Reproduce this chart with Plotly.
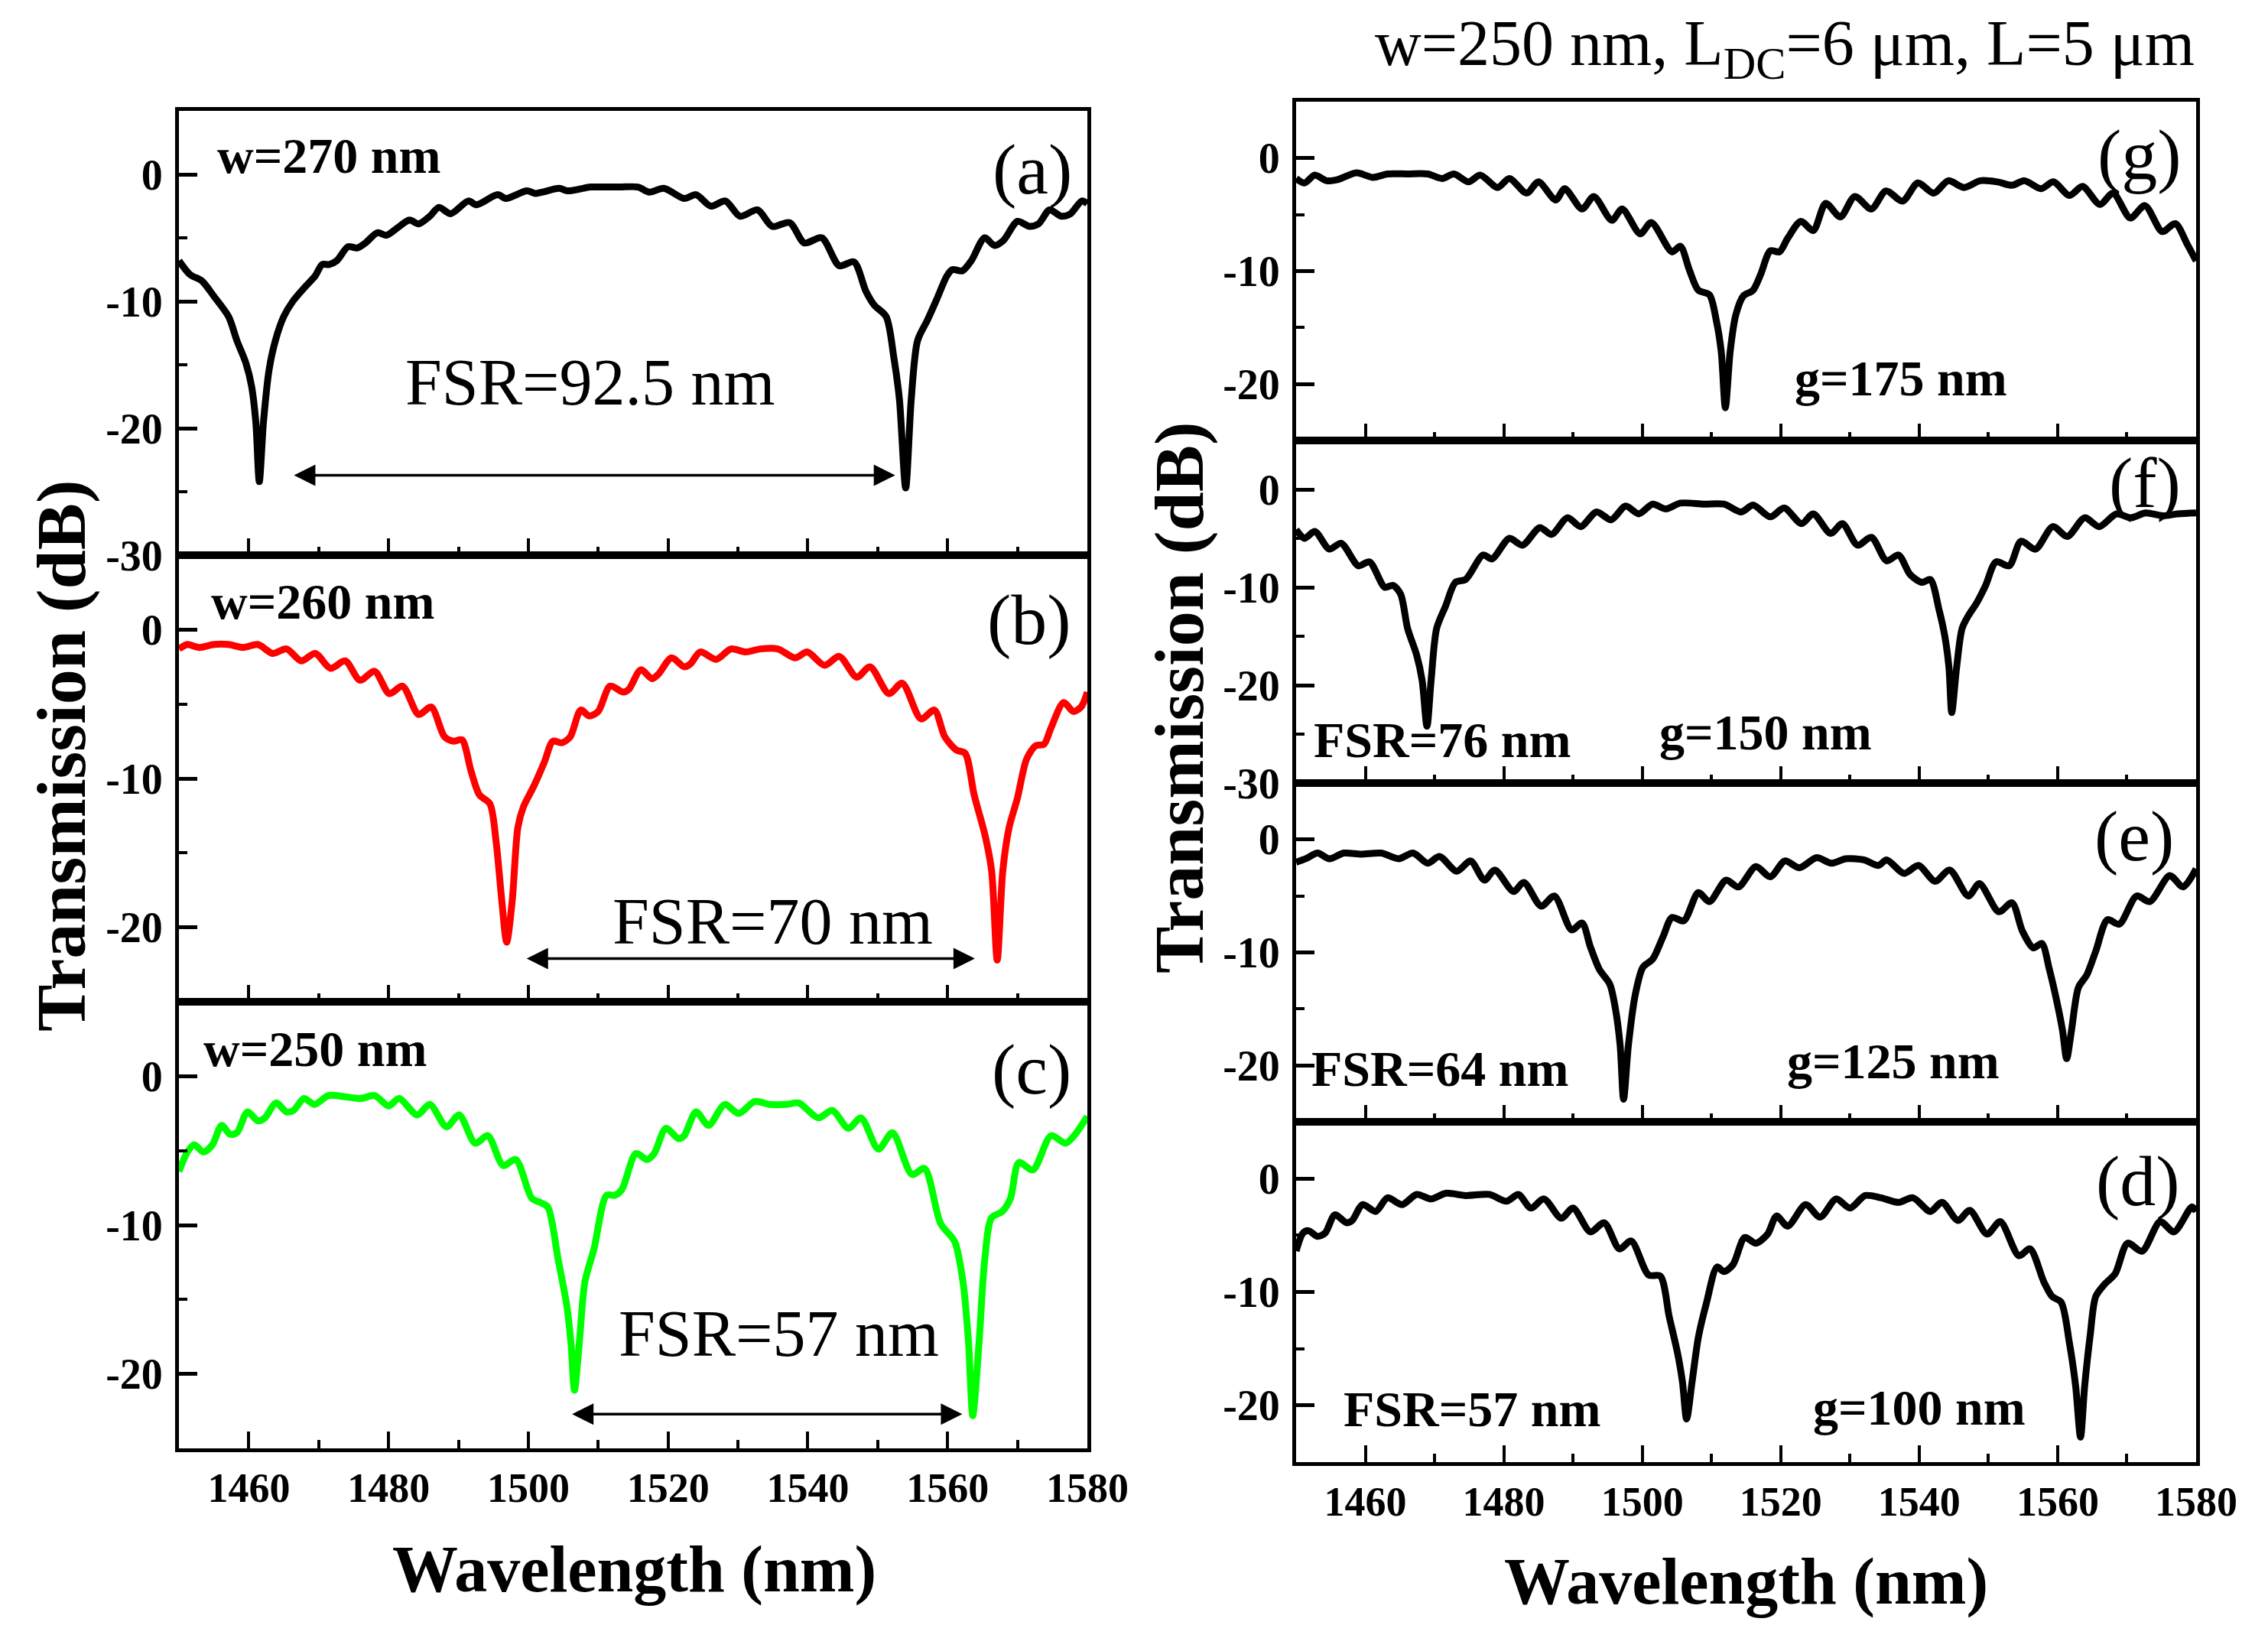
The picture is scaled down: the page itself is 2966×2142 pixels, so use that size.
import plotly.graph_objects as go

# ---------------- data ----------------
wl_a = [1450.0, 1451.6, 1453.3, 1455.0, 1457.1, 1458.3, 1459.6, 1460.4, 1461.0, 1461.5, 1462.1, 1462.9,
        1463.8, 1465.0, 1466.3, 1468.0, 1469.5, 1470.5, 1471.5, 1472.6, 1474.2, 1475.5, 1476.7, 1478.4,
        1479.7, 1481.3, 1483.0, 1484.3, 1485.9, 1487.2, 1488.9, 1491.4, 1492.6, 1495.6, 1496.8, 1499.8,
        1501.0, 1504.4, 1505.6, 1508.9, 1510.6, 1513.1, 1515.7, 1517.3, 1519.4, 1522.3, 1524.0, 1526.1,
        1528.2, 1530.3, 1532.8, 1534.9, 1537.4, 1539.5, 1542.0, 1544.5, 1546.6, 1548.3, 1549.5, 1551.2,
        1552.3, 1553.1, 1554.0, 1554.8, 1555.7, 1557.1, 1558.4, 1559.9, 1560.7, 1562.1, 1563.4, 1565.3,
        1566.7, 1568.0, 1570.0, 1571.7, 1573.0, 1574.6, 1576.3, 1577.6, 1579.2, 1580.0]
tr_a = [-6.8, -7.9, -8.4, -9.6, -11.2, -13.1, -14.9, -16.7, -19.5, -24.2, -19.5, -15.4,
        -13.1, -11.2, -10.0, -8.9, -8.0, -7.1, -7.1, -6.8, -5.7, -5.8, -5.4, -4.6,
        -4.8, -4.2, -3.6, -3.9, -3.3, -2.6, -3.1, -2.1, -2.4, -1.6, -1.9, -1.3,
        -1.5, -1.1, -1.3, -1.0, -1.0, -1.0, -1.0, -1.4, -1.1, -1.9, -1.6, -2.5,
        -2.1, -3.3, -2.8, -4.1, -3.8, -5.4, -5.0, -7.2, -6.9, -9.2, -10.3, -11.2,
        -14.4, -17.7, -24.7, -17.7, -13.1, -11.5, -9.9, -8.0, -7.5, -7.6, -6.8, -5.0,
        -5.6, -5.2, -3.7, -4.1, -3.9, -2.8, -3.3, -3.1, -2.1, -2.3]

wl_b = [1450.0, 1451.2, 1452.9, 1455.0, 1457.1, 1459.2, 1461.3, 1463.4, 1465.4, 1467.5, 1469.5, 1471.7,
        1473.8, 1475.9, 1478.0, 1480.1, 1482.0, 1484.3, 1486.1, 1488.0, 1489.3, 1490.5, 1491.8, 1493.0,
        1494.5, 1495.4, 1496.2, 1496.9, 1497.7, 1498.5, 1499.3, 1500.8, 1502.3, 1503.5, 1504.8, 1506.0,
        1507.5, 1508.7, 1510.0, 1511.7, 1513.6, 1514.4, 1516.1, 1517.7, 1518.6, 1520.5, 1522.3, 1523.2,
        1524.6, 1526.9, 1529.0, 1531.1, 1533.2, 1535.7, 1538.2, 1539.9, 1542.4, 1544.5, 1547.0, 1548.9,
        1551.6, 1553.5, 1556.2, 1558.1, 1559.6, 1561.3, 1562.5, 1563.8, 1565.4, 1566.3, 1567.1, 1567.9,
        1568.8, 1570.0, 1571.3, 1572.6, 1573.8, 1574.8, 1576.6, 1578.0, 1579.1, 1580.0]
tr_b = [-1.3, -1.0, -1.2, -1.0, -1.0, -1.2, -1.0, -1.6, -1.3, -2.1, -1.6, -2.6,
        -2.1, -3.4, -2.8, -4.3, -3.8, -5.7, -5.2, -7.2, -7.5, -7.4, -9.5, -11.1,
        -11.7, -14.3, -18.2, -21.0, -18.2, -13.3, -11.9, -10.5, -8.9, -7.5, -7.6, -7.2,
        -5.4, -5.8, -5.5, -3.8, -4.2, -4.0, -2.7, -3.3, -3.0, -1.9, -2.5, -2.3,
        -1.5, -2.0, -1.3, -1.5, -1.3, -1.3, -1.9, -1.5, -2.4, -1.8, -3.2, -2.5,
        -4.3, -3.6, -6.0, -5.4, -7.2, -8.1, -8.3, -11.1, -13.9, -16.2, -22.2, -16.2,
        -13.3, -11.3, -8.7, -7.8, -7.7, -6.6, -4.9, -5.5, -5.2, -4.2]

wl_c = [1450.0, 1451.2, 1452.2, 1453.5, 1454.8, 1456.1, 1457.3, 1458.3, 1459.8, 1461.3, 1462.3, 1463.9,
        1465.4, 1466.4, 1467.9, 1469.4, 1471.4, 1474.0, 1476.0, 1478.0, 1480.0, 1481.5, 1484.1, 1485.9,
        1488.3, 1490.1, 1492.4, 1494.2, 1496.4, 1498.2, 1500.5, 1501.8, 1502.8, 1504.3, 1505.5, 1506.1,
        1506.6, 1507.3, 1508.1, 1509.4, 1511.2, 1512.4, 1513.4, 1515.4, 1517.0, 1518.0, 1519.7, 1521.5,
        1522.3, 1524.0, 1525.8, 1528.1, 1530.1, 1532.4, 1534.6, 1536.9, 1538.7, 1541.5, 1543.5, 1545.8,
        1547.6, 1550.1, 1552.1, 1554.9, 1556.7, 1559.0, 1561.0, 1562.2, 1563.0, 1563.6, 1564.5, 1565.3,
        1566.3, 1567.8, 1569.0, 1570.2, 1572.2, 1574.8, 1576.9, 1578.1, 1580.0]
tr_c = [-6.4, -5.1, -4.6, -5.1, -4.6, -3.3, -3.9, -3.8, -2.4, -3.0, -2.8, -1.8,
        -2.4, -2.3, -1.5, -1.9, -1.3, -1.4, -1.5, -1.3, -2.0, -1.5, -2.6, -1.9,
        -3.4, -2.6, -4.5, -4.0, -6.0, -5.6, -8.2, -8.5, -8.8, -12.4, -15.4, -17.9,
        -21.1, -17.9, -13.8, -11.6, -8.0, -8.0, -7.6, -5.2, -5.6, -5.2, -3.5, -4.2,
        -4.0, -2.4, -3.3, -1.9, -2.5, -1.7, -1.9, -1.9, -1.8, -2.8, -2.3, -3.5,
        -2.8, -4.9, -3.8, -6.6, -6.2, -9.9, -11.1, -13.8, -17.9, -22.8, -17.9, -12.4,
        -9.5, -9.1, -8.2, -5.8, -6.3, -4.0, -4.5, -4.0, -2.7]

wl_g = [1450.0, 1451.2, 1452.7, 1454.4, 1456.0, 1458.7, 1461.1, 1463.2, 1466.1, 1469.0, 1471.1, 1472.8,
        1474.9, 1476.6, 1479.1, 1480.8, 1483.3, 1485.0, 1487.5, 1488.8, 1491.3, 1493.0, 1495.6, 1497.1,
        1499.7, 1501.3, 1504.3, 1505.5, 1506.8, 1508.1, 1509.7, 1510.7, 1511.4, 1512.0, 1512.7, 1513.5,
        1514.6, 1516.0, 1517.1, 1518.5, 1519.8, 1521.0, 1522.9, 1524.7, 1526.5, 1528.6, 1530.7, 1533.1,
        1535.2, 1537.6, 1539.8, 1542.1, 1544.2, 1546.5, 1548.8, 1551.3, 1553.4, 1555.2, 1557.6, 1559.4,
        1561.7, 1563.6, 1566.1, 1568.0, 1570.5, 1572.6, 1575.1, 1577.0, 1578.7, 1580.0]
tr_g = [-1.8, -2.2, -1.5, -2.0, -1.9, -1.3, -1.7, -1.4, -1.4, -1.4, -1.8, -1.4,
        -2.1, -1.5, -2.6, -1.8, -3.1, -2.1, -3.7, -2.7, -4.5, -3.4, -5.5, -4.5,
        -6.7, -5.7, -8.3, -7.8, -9.9, -11.7, -12.1, -14.4, -17.1, -22.1, -17.1, -13.9,
        -12.2, -11.7, -10.3, -8.2, -8.3, -7.1, -5.6, -6.4, -4.0, -5.2, -3.4, -4.5,
        -2.9, -3.8, -2.2, -3.1, -2.0, -2.6, -2.0, -2.1, -2.4, -2.0, -2.7, -2.1,
        -3.3, -2.5, -4.1, -3.1, -5.3, -4.2, -6.5, -5.8, -7.6, -9.1]

wl_f = [1450.0, 1451.2, 1452.7, 1454.8, 1456.5, 1459.0, 1460.6, 1462.8, 1464.0, 1465.1, 1466.1, 1467.4,
        1468.2, 1468.9, 1469.5, 1470.3, 1471.6, 1473.0, 1474.5, 1477.0, 1478.3, 1480.8, 1482.7, 1485.2,
        1486.9, 1489.2, 1491.1, 1493.4, 1495.5, 1497.6, 1499.5, 1501.5, 1503.4, 1505.5, 1508.9, 1511.8,
        1514.3, 1516.0, 1518.5, 1520.5, 1523.0, 1524.7, 1527.2, 1528.9, 1531.1, 1533.1, 1535.3, 1537.0,
        1538.7, 1540.4, 1541.6, 1542.9, 1543.7, 1544.3, 1544.7, 1545.4, 1546.2, 1547.1, 1548.3, 1549.6,
        1551.1, 1553.0, 1554.7, 1556.8, 1559.3, 1561.4, 1563.9, 1566.0, 1568.5, 1570.6, 1572.7, 1575.2,
        1577.3, 1580.0]
tr_f = [-4.1, -5.0, -4.3, -6.1, -5.5, -7.8, -7.4, -10.0, -9.8, -10.7, -14.2, -16.9,
        -19.5, -24.2, -19.5, -14.2, -11.9, -9.5, -9.2, -6.7, -7.1, -5.0, -5.7, -3.9,
        -4.6, -2.9, -3.8, -2.3, -3.1, -1.7, -2.5, -1.5, -2.0, -1.4, -1.5, -1.5,
        -2.3, -1.6, -2.8, -1.9, -3.5, -2.5, -4.5, -3.5, -5.7, -4.9, -7.3, -6.7,
        -8.7, -9.5, -9.2, -12.4, -15.0, -18.2, -22.8, -18.2, -14.2, -12.9, -11.6, -9.8,
        -7.4, -7.8, -5.3, -6.1, -3.8, -4.8, -2.9, -3.8, -2.5, -2.9, -2.4, -2.7,
        -2.5, -2.4]

wl_e = [1450.0, 1451.4, 1453.1, 1454.8, 1456.9, 1459.4, 1462.3, 1464.8, 1466.9, 1469.0, 1470.7, 1473.2,
        1475.2, 1477.2, 1478.7, 1481.4, 1482.9, 1485.4, 1487.3, 1489.8, 1491.3, 1492.5, 1493.8, 1495.3,
        1496.1, 1496.8, 1497.3, 1498.0, 1499.0, 1500.1, 1501.5, 1503.0, 1504.3, 1506.0, 1508.1, 1509.7,
        1512.1, 1513.9, 1516.4, 1518.5, 1520.6, 1522.7, 1525.2, 1527.3, 1529.4, 1532.0, 1534.1, 1535.3,
        1537.8, 1539.9, 1542.3, 1544.4, 1547.1, 1548.7, 1551.5, 1553.4, 1554.9, 1556.5, 1557.7, 1558.8,
        1559.9, 1560.7, 1561.3, 1562.0, 1563.0, 1564.2, 1565.5, 1567.2, 1568.9, 1571.4, 1573.3, 1576.2,
        1578.1, 1580.0]
tr_e = [-2.0, -1.7, -1.2, -1.7, -1.2, -1.3, -1.2, -1.7, -1.2, -2.1, -1.5, -2.8,
        -1.9, -3.6, -2.7, -4.6, -3.8, -5.9, -5.0, -8.0, -7.4, -9.5, -11.5, -12.8,
        -14.9, -18.2, -23.0, -18.2, -13.7, -11.3, -10.6, -8.6, -6.9, -7.2, -4.7, -5.5,
        -3.6, -4.2, -2.4, -3.3, -1.9, -2.5, -1.6, -2.1, -1.7, -1.8, -2.3, -1.8,
        -3.0, -2.3, -3.7, -2.7, -5.0, -3.9, -6.4, -5.6, -8.1, -9.6, -9.2, -11.5,
        -14.4, -16.9, -19.4, -16.9, -13.1, -12.0, -9.9, -7.1, -7.5, -5.0, -5.5, -3.2,
        -4.2, -2.6]

wl_d = [1450.0, 1451.0, 1451.8, 1453.1, 1454.2, 1455.6, 1457.3, 1458.1, 1459.6, 1461.5, 1463.2, 1465.3,
        1467.4, 1469.5, 1471.6, 1474.5, 1477.9, 1480.4, 1482.1, 1483.9, 1485.8, 1488.3, 1490.0, 1492.5,
        1494.5, 1496.7, 1498.4, 1500.9, 1502.6, 1503.9, 1505.1, 1505.8, 1506.4, 1507.2, 1508.1, 1509.3,
        1510.8, 1511.8, 1513.1, 1514.8, 1516.4, 1518.1, 1519.4, 1521.0, 1523.6, 1525.7, 1528.0, 1530.0,
        1532.2, 1534.5, 1537.0, 1539.1, 1541.6, 1543.3, 1545.6, 1547.3, 1549.8, 1551.7, 1554.4, 1556.0,
        1558.0, 1559.2, 1560.5, 1561.7, 1562.6, 1563.3, 1563.9, 1564.7, 1565.5, 1566.8, 1568.3, 1570.1,
        1572.2, 1574.8, 1576.8, 1579.4, 1580.0]
tr_d = [-6.4, -4.8, -4.6, -5.1, -4.8, -3.2, -3.9, -3.7, -2.3, -2.9, -1.7, -2.3,
        -1.4, -1.8, -1.3, -1.5, -1.4, -2.0, -1.4, -2.6, -1.8, -3.5, -2.6, -4.7,
        -3.9, -6.2, -5.5, -8.5, -8.6, -12.2, -15.4, -17.9, -21.2, -17.9, -14.0, -10.9,
        -7.8, -8.2, -7.6, -5.2, -5.7, -4.9, -3.3, -4.2, -2.3, -3.4, -1.8, -2.6,
        -1.5, -1.7, -2.1, -1.7, -2.9, -2.1, -3.7, -2.8, -4.9, -3.8, -6.8, -6.2,
        -9.1, -10.4, -10.9, -14.5, -18.3, -22.8, -18.3, -13.8, -10.4, -9.3, -8.4, -5.7,
        -6.4, -3.8, -4.7, -2.5, -2.9]

x_ticks = [1460, 1480, 1500, 1520, 1540, 1560, 1580]
x_ticktext = ["1460", "1480", "1500", "1520", "1540", "1560", "1580"]
y_ticks = [-30, -20, -10, 0]
y_ticktext = ["-30", "-20", "-10", "0"]

# panel labels / annotations (text only)
panel_labels = ["(a)", "(b)", "(c)", "(g)", "(f)", "(e)", "(d)"]
width_labels = ["w=270 nm", "w=260 nm", "w=250 nm"]
fsr_left = ["FSR=92.5 nm", "FSR=70 nm", "FSR=57 nm"]
fsr_right = ["", "FSR=76 nm", "FSR=64 nm", "FSR=57 nm"]
gap_labels = ["g=175 nm", "g=150 nm", "g=125 nm", "g=100 nm"]

# ---------------- layout ----------------
W, H = 2966, 2142
FONT = "Liberation Serif"

def px_x(x):
    return x / W

def px_y(y):
    return 1 - y / H

XL = [px_x(234), px_x(1422)]
XR = [px_x(1695), px_x(2872)]

panels = [
    # wl, tr, color, xdomain, ydomain, yrange, bottom?
    (wl_a, tr_a, "black", XL, [px_y(726), px_y(145)], [-30, 5], False),
    (wl_b, tr_b, "#ff0000", XL, [px_y(1310), px_y(726)], [-25, 5], False),
    (wl_c, tr_c, "#00ff00", XL, [px_y(1894), px_y(1310)], [-25, 5], True),
    (wl_g, tr_g, "black", XR, [px_y(576), px_y(133)], [-25, 5], False),
    (wl_f, tr_f, "black", XR, [px_y(1024), px_y(576)], [-30, 5], False),
    (wl_e, tr_e, "black", XR, [px_y(1467), px_y(1024)], [-25, 5], False),
    (wl_d, tr_d, "black", XR, [px_y(1912), px_y(1467)], [-25, 5], True),
]

fig = go.Figure()
layout = dict(
    template="none",
    width=W, height=H,
    margin=dict(l=0, r=0, t=0, b=0, pad=0, autoexpand=False),
    paper_bgcolor="white", plot_bgcolor="white",
    showlegend=False,
    font=dict(family=FONT, color="black"),
)

for i, (wl, tr, col, xd, yd, yr, bottom) in enumerate(panels, start=1):
    xa = "x" if i == 1 else f"x{i}"
    ya = "y" if i == 1 else f"y{i}"
    fig.add_trace(go.Scatter(x=wl, y=tr, mode="lines", xaxis=xa, yaxis=ya,
                             line=dict(color=col, width=9, shape="spline", smoothing=0.8),
                             hoverinfo="skip"))
    yt = [(t, s) for t, s in zip(y_ticks, y_ticktext) if t >= yr[0]]
    layout[f"xaxis{'' if i == 1 else i}"] = dict(
        domain=xd, anchor=ya, range=[1450, 1580], automargin=False,
        tickmode="array", tickvals=x_ticks, ticktext=x_ticktext,
        showticklabels=bottom,
        ticks="inside", ticklen=22, tickwidth=4, tickcolor="black",
        minor=dict(ticks="inside", ticklen=11, tickwidth=4, dtick=10, tick0=1450, tickcolor="black"),
        showline=True, linewidth=5, linecolor="black", mirror=True,
        showgrid=False, zeroline=False,
        tickfont=dict(family=FONT, size=54, color="black", weight="bold"),
        ticklabelstandoff=0,
    )
    layout[f"yaxis{'' if i == 1 else i}"] = dict(
        domain=yd, anchor=xa, range=yr, automargin=False,
        tickmode="array", tickvals=[t for t, s in yt], ticktext=[s for t, s in yt],
        ticks="inside", ticklen=24, tickwidth=5, tickcolor="black",
        minor=dict(ticks="inside", ticklen=11, tickwidth=4, dtick=5, tick0=0, tickcolor="black"),
        showline=True, linewidth=5, linecolor="black", mirror=True,
        showgrid=False, zeroline=False,
        tickfont=dict(family=FONT, size=56, color="black", weight="bold"),
        ticklabelstandoff=5,
    )

fig.update_layout(**layout)

ann = []

def add_text(text, xref, yref, x, y, size, bold=False, **kw):
    ann.append(dict(text=text, xref=xref, yref=yref, x=x, y=y, showarrow=False,
                    xanchor=kw.pop("xanchor", "center"), yanchor=kw.pop("yanchor", "middle"),
                    font=dict(family=FONT, size=size, color="black", weight="bold" if bold else "normal"),
                    **kw))

def add_arrow(xref, yref, x0, x1, y):
    ann.append(dict(text=" ", font=dict(size=1), xref=xref, yref=yref, x=x1, y=y, ax=x0, ay=y,
                    axref=xref, ayref=yref, showarrow=True, arrowhead=2, arrowside="end+start",
                    arrowsize=1.6, arrowwidth=3.5, arrowcolor="black", standoff=0, startstandoff=0))

# left column
add_text(width_labels[0], "x", "y", 1471.5, 1.5, 66, True)
add_text(panel_labels[0], "x", "y", 1572.1, 0.4, 94)
add_text(fsr_left[0], "x", "y", 1508.8, -16.4, 86)
add_arrow("x", "y", 1466.3, 1552.5, -23.7)

add_text(width_labels[1], "x2", "y2", 1470.6, 1.9, 66, True)
add_text(panel_labels[1], "x2", "y2", 1571.7, 0.7, 94)
add_text(fsr_left[1], "x2", "y2", 1535.0, -19.6, 86)
add_arrow("x2", "y2", 1499.6, 1563.9, -22.1)

add_text(width_labels[2], "x3", "y3", 1469.5, 1.85, 66, True)
add_text(panel_labels[2], "x3", "y3", 1572.0, 0.5, 94)
add_text(fsr_left[2], "x3", "y3", 1535.9, -17.3, 86)
add_arrow("x3", "y3", 1506.1, 1562.1, -22.7)

# right column
add_text(panel_labels[3], "x4", "y4", 1571.8, 0.3, 94)
add_text(gap_labels[0], "x4", "y4", 1537.4, -19.5, 66, True)

add_text(panel_labels[4], "x5", "y5", 1572.6, 0.7, 94)
add_text(fsr_right[1], "x5", "y5", 1471.1, -25.6, 66, True)
add_text(gap_labels[1], "x5", "y5", 1517.8, -24.8, 66, True)

add_text(panel_labels[5], "x6", "y6", 1571.0, 0.3, 94)
add_text(fsr_right[2], "x6", "y6", 1470.8, -20.3, 66, True)
add_text(gap_labels[2], "x6", "y6", 1536.3, -19.6, 66, True)

add_text(panel_labels[6], "x7", "y7", 1571.6, -0.2, 94)
add_text(fsr_right[3], "x7", "y7", 1475.4, -20.3, 66, True)
add_text(gap_labels[3], "x7", "y7", 1540.0, -20.2, 66, True)

# titles
add_text("Transmission (dB)", "paper", "paper", px_x(80), px_y(988), 92, True, textangle=-90)
add_text("Transmission (dB)", "paper", "paper", px_x(1542), px_y(912), 92, True, textangle=-90)
add_text("Wavelength (nm)", "paper", "paper", px_x(829), px_y(2052), 86, True)
add_text("Wavelength (nm)", "paper", "paper", px_x(2283), px_y(2068), 86, True)
add_text("w=250 nm, L<sub>DC</sub>=6 μm, L=5 μm", "paper", "paper", px_x(2334), px_y(8), 84,
         yanchor="top")

fig.update_layout(annotations=ann)
fig.write_html("out.html",
               config={"displayModeBar": False},
               post_script="document.body.style.margin='0';document.body.style.overflow='hidden';")
